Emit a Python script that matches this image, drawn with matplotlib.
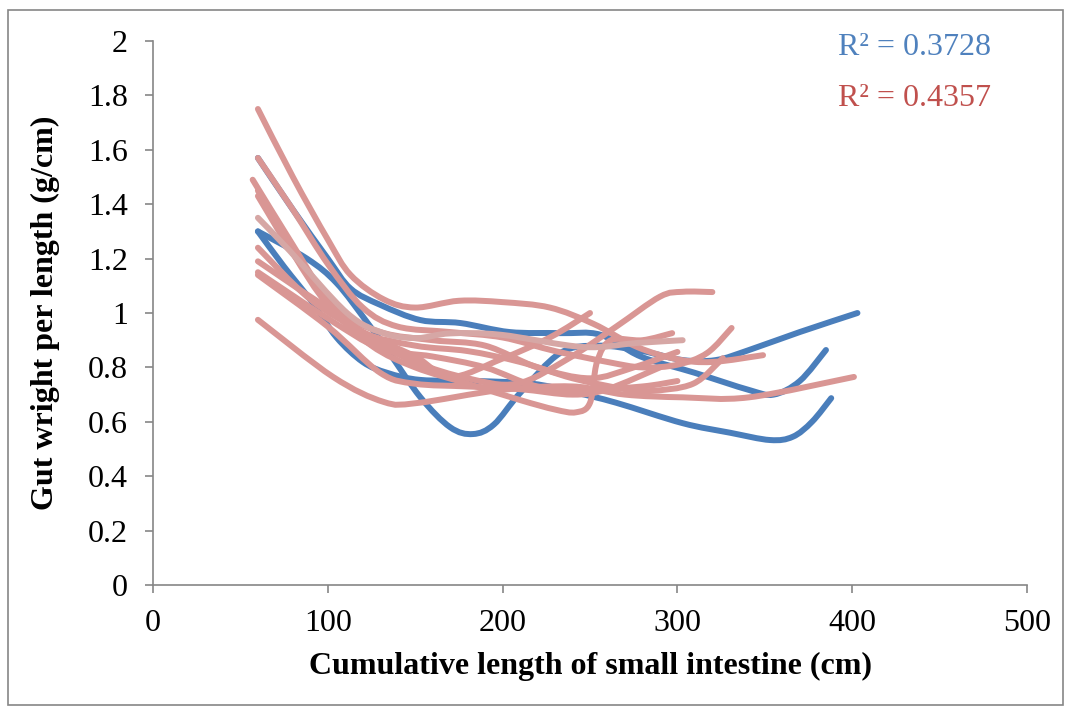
import matplotlib
matplotlib.use("Agg")
import matplotlib.pyplot as plt
import numpy as np
from matplotlib.path import Path
from matplotlib.patches import PathPatch, Rectangle

# values (x = cumulative length in cm, y = g/cm)
blue_a_x = [60, 80, 100, 113, 130, 153, 176, 204, 233, 256, 279, 310, 341, 355, 370, 385]
blue_a_y = [1.57, 1.38, 1.20, 1.09, 1.03, 0.974, 0.963, 0.93, 0.926, 0.92, 0.84, 0.78, 0.717, 0.70, 0.75, 0.864]
blue_b_x = [60, 88, 105, 122, 134, 153, 170, 183, 195, 210, 233, 255, 280, 303, 322, 341, 370, 403]
blue_b_y = [1.30, 1.20, 1.11, 0.97, 0.864, 0.69, 0.58, 0.555, 0.59, 0.706, 0.853, 0.88, 0.86, 0.827, 0.827, 0.864, 0.93, 1.0]
blue_c_x = [60, 75, 91, 105, 120, 134, 153, 185, 217, 240, 265, 303, 330, 353, 366, 377, 388]
blue_c_y = [1.30, 1.17, 1.04, 0.91, 0.82, 0.78, 0.754, 0.75, 0.74, 0.71, 0.67, 0.595, 0.56, 0.533, 0.545, 0.60, 0.687]

pink_1_x = [60, 80, 100, 113, 132, 150, 175, 200, 227, 252, 277, 300, 320, 349]
pink_1_y = [1.75, 1.50, 1.27, 1.14, 1.05, 1.02, 1.045, 1.04, 1.02, 0.96, 0.875, 0.83, 0.82, 0.845]
pink_2_x = [60, 80, 100, 120, 140, 170, 200, 230, 260, 280, 300, 317, 331]
pink_2_y = [1.57, 1.38, 1.18, 1.02, 0.95, 0.93, 0.91, 0.86, 0.82, 0.80, 0.81, 0.853, 0.945]
pink_3_x = [57, 80, 100, 120, 150, 180, 210, 240, 270, 284, 309, 326]
pink_3_y = [1.49, 1.25, 1.05, 0.93, 0.88, 0.86, 0.82, 0.76, 0.72, 0.713, 0.74, 0.834]
pink_4_x = [60, 80, 100, 125, 150, 180, 210, 230, 242, 250, 254, 262, 280, 297]
pink_4_y = [1.45, 1.22, 1.03, 0.88, 0.80, 0.74, 0.68, 0.645, 0.635, 0.67, 0.82, 0.90, 0.90, 0.926]
pink_5_x = [60, 80, 100, 120, 150, 180, 208, 237, 265, 290, 303, 320]
pink_5_y = [1.43, 1.22, 1.05, 0.92, 0.82, 0.76, 0.74, 0.83, 0.95, 1.06, 1.078, 1.077]
pink_6_x = [60, 90, 120, 150, 170, 199, 227, 250]
pink_6_y = [1.24, 1.05, 0.93, 0.84, 0.765, 0.83, 0.91, 1.0]
pink_7_x = [60, 100, 130, 160, 190, 220, 250, 275, 300]
pink_7_y = [1.19, 1.02, 0.93, 0.90, 0.88, 0.80, 0.76, 0.80, 0.857]
pink_8_x = [60, 100, 130, 160, 190, 220, 250, 280, 300]
pink_8_y = [1.15, 0.98, 0.87, 0.84, 0.80, 0.73, 0.72, 0.73, 0.75]
pink_9_x = [60, 100, 130, 150, 180, 210, 240, 260, 290]
pink_9_y = [1.14, 0.95, 0.78, 0.74, 0.73, 0.72, 0.70, 0.72, 0.80]
pink_10_x = [60, 103, 132, 151, 199, 240, 270, 303, 341, 401]
pink_10_y = [0.975, 0.765, 0.673, 0.669, 0.717, 0.73, 0.70, 0.69, 0.69, 0.765]
light_x = [60, 78, 111, 132, 151, 170, 199, 246, 277, 303]
light_y = [1.35, 1.23, 1.0, 0.926, 0.908, 0.925, 0.92, 0.875, 0.89, 0.90]

r2_labels = ["R² = 0.3728", "R² = 0.4357"]

blue = "#4A7EBB"
pink = "#D99694"
light_pink = "#D6A7A5"


def smooth(xs, ys):
    # excel-style smoothed line: bezier segments through the points
    pts = np.column_stack([xs, ys]).astype(float)
    verts = [pts[0]]
    codes = [Path.MOVETO]
    n = len(pts)
    for i in range(n - 1):
        p0 = pts[i - 1] if i > 0 else pts[i]
        p1 = pts[i]
        p2 = pts[i + 1]
        p3 = pts[i + 2] if i + 2 < n else pts[i + 1]
        verts += [p1 + (p2 - p0) / 6, p2 - (p3 - p1) / 6, p2]
        codes += [Path.CURVE4] * 3
    return Path(verts, codes)


plt.rcParams['font.family'] = ['Liberation Serif', 'DejaVu Serif']

fig = plt.figure(figsize=(10.71, 7.13), dpi=100)
ax = fig.add_axes([0.1429, 0.1795, 0.816, 0.763])

series = [
    (blue_a_x, blue_a_y, blue), (blue_b_x, blue_b_y, blue), (blue_c_x, blue_c_y, blue),
    (pink_1_x, pink_1_y, pink), (pink_2_x, pink_2_y, pink), (pink_3_x, pink_3_y, pink),
    (pink_4_x, pink_4_y, pink), (pink_5_x, pink_5_y, pink), (pink_6_x, pink_6_y, pink),
    (pink_7_x, pink_7_y, pink), (pink_8_x, pink_8_y, pink), (pink_9_x, pink_9_y, pink),
    (pink_10_x, pink_10_y, pink), (light_x, light_y, light_pink),
]
for xs, ys, c in series:
    ax.add_patch(PathPatch(smooth(xs, ys), fill=False, edgecolor=c, lw=4.3,
                           capstyle='round', joinstyle='round'))

ax.set_xlim(0, 500)
ax.set_ylim(0, 2)
ax.set_xticks(np.arange(0, 501, 100))
ax.set_yticks(np.arange(0, 2.01, 0.2))
ax.set_yticklabels(["0", "0.2", "0.4", "0.6", "0.8", "1", "1.2", "1.4", "1.6", "1.8", "2"])

for s in ['top', 'right']:
    ax.spines[s].set_visible(False)
for s in ['left', 'bottom']:
    ax.spines[s].set_color('#868686')
    ax.spines[s].set_linewidth(1.2)
ax.tick_params(axis='both', direction='out', length=6, width=1.2, color='#868686',
               labelsize=23, labelcolor='black')
ax.tick_params(axis='x', pad=11)
ax.tick_params(axis='y', pad=12)

ax.set_xlabel("Cumulative length of small intestine (cm)", fontsize=23,
              fontweight='bold', labelpad=10)
ax.set_ylabel("Gut wright per length (g/cm)", fontsize=23, fontweight='bold',
              labelpad=20)

ax.text(392, 1.975, r2_labels[0], color="#4F81BD", fontsize=23, va='center', ha='left')
ax.text(392, 1.79, r2_labels[1], color="#C0504D", fontsize=23, va='center', ha='left')

fig.patches.append(Rectangle((8 / 1071, 8 / 713), 1055 / 1071, 695 / 713,
                             transform=fig.transFigure, fill=False,
                             edgecolor='#868686', lw=1.2))

fig.savefig("out.png", dpi=100)
